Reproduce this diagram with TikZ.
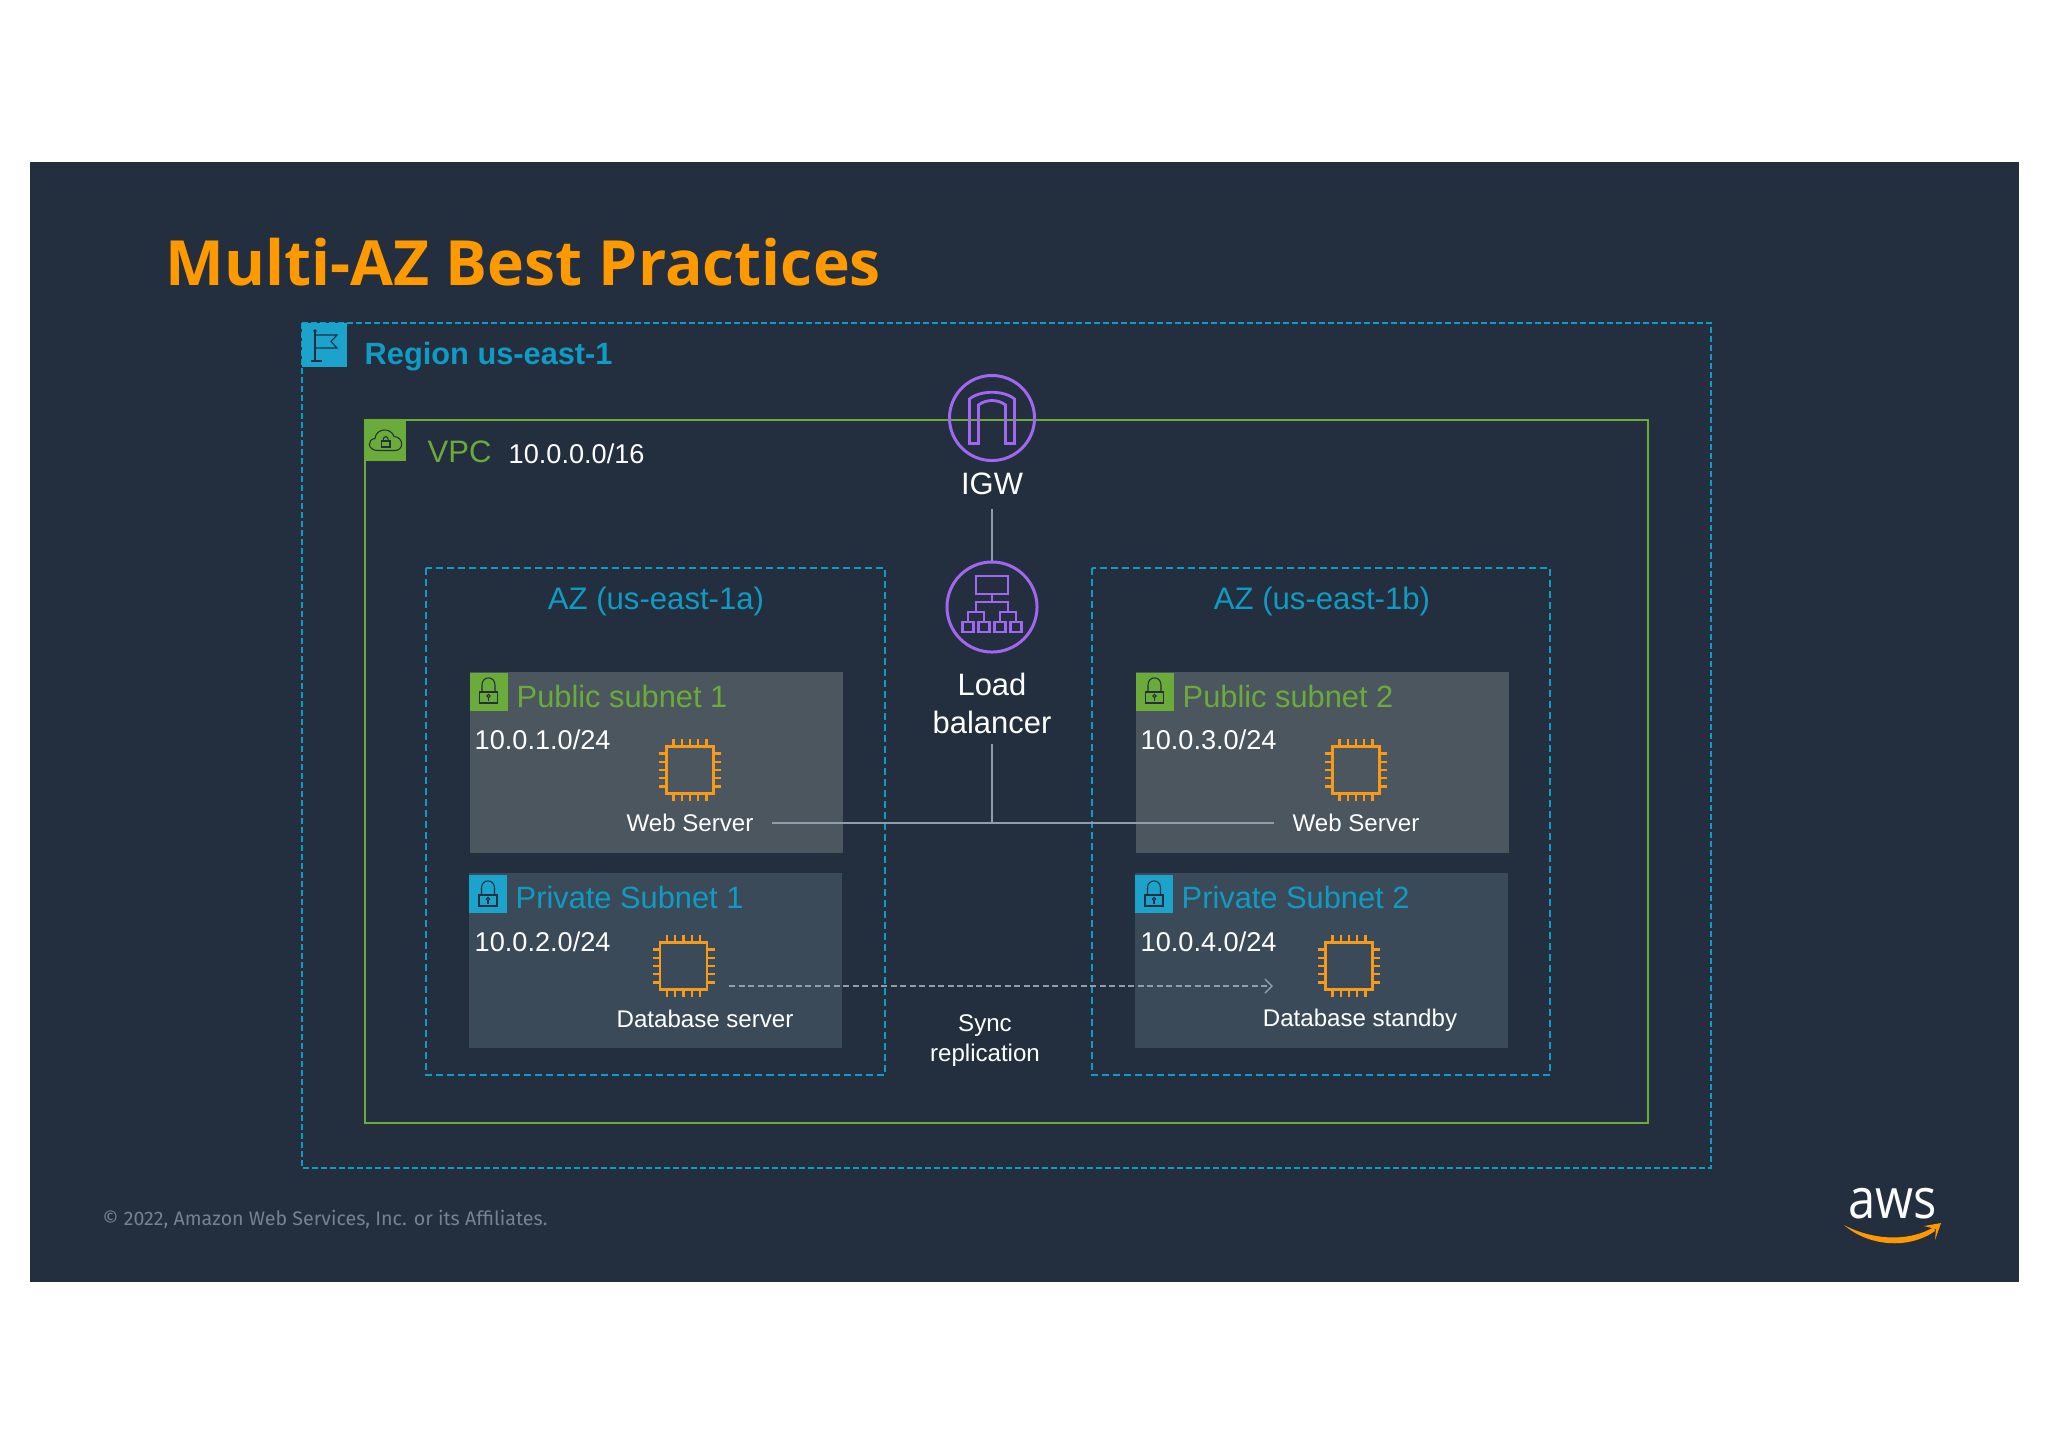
\documentclass[tikz,border=0pt]{standalone}
\usepackage{fontspec}
\setmainfont{Liberation Sans}
\newfontfamily\titlefont{Open Sans}
\newfontfamily\footfont{Fira Sans}
\usepackage{tikz}
\usetikzlibrary{arrows.meta}
\pgfdeclarelayer{background}
\pgfdeclarelayer{foreground}
\pgfsetlayers{background,main,foreground}
\definecolor{panelcol}{HTML}{232F3E}
\definecolor{bluecol}{HTML}{0F9BC4}
\definecolor{iconblue}{HTML}{1CA3CC}
\definecolor{greencol}{HTML}{6AAB3A}
\definecolor{orangecol}{HTML}{FF9900}
\definecolor{chipcol}{HTML}{F59A1B}
\definecolor{purplecol}{HTML}{A166F2}
\definecolor{pubcol}{HTML}{4B565F}
\definecolor{privcol}{HTML}{3B4A58}
\definecolor{linecol}{HTML}{909EAC}
\definecolor{footcol}{HTML}{77828E}
\tikzset{
  regionbox/.style={draw=bluecol,line width=0.45pt,dash pattern=on 0.06cm off 0.03cm},
  vpcbox/.style={draw=greencol,line width=0.55pt},
  azbox/.style={draw=bluecol,line width=0.5pt,dash pattern=on 0.07cm off 0.04cm},
  plainlabel/.style={text=white,inner sep=0pt,font=\fontsize{7.72}{9}\selectfont},
  iplabel/.style={plainlabel,anchor=west},
  smalllabel/.style={plainlabel,inner sep=0.18cm,font=\fontsize{6.85}{9}\selectfont},
  biglabel/.style={plainlabel,align=center,font=\fontsize{8.8}{10.8}\selectfont},
  publabel/.style={anchor=west,inner sep=0pt,text=greencol,font=\fontsize{8.76}{10}\selectfont},
  privlabel/.style={anchor=west,inner sep=0pt,text=bluecol,font=\fontsize{8.76}{10}\selectfont},
  azlabel/.style={inner sep=0pt,text=bluecol,font=\fontsize{8.85}{10}\selectfont},
  chipbox/.style={draw=chipcol,line width=0.6pt,minimum width=0.47cm,minimum height=0.47cm,inner sep=0pt},
  chippin/.style={draw=chipcol,line width=0.6pt},
  iconline/.style={draw=panelcol,line width=0.3pt},
  purplering/.style={draw=purplecol,line width=0.85pt,circle,inner sep=0pt},
  purpleline/.style={draw=purplecol,line width=0.8pt},
  wire/.style={draw=linecol,line width=0.4pt},
  syncwire/.style={draw=linecol,line width=0.4pt,dash pattern=on 0.06cm off 0.035cm,-{Straight Barb[length=0.07cm,width=0.14cm]}},
  lockicon/.pic={
    \draw[iconline] (-9,1) rectangle (9,12);
    \draw[iconline] (-6.5,1) -- (-6.5,-6) .. controls (-6.5,-15.5) and (6.5,-15.5) .. (6.5,-6) -- (6.5,1);
    \draw[iconline] (0,5) circle (1.7);
    \draw[iconline] (0,6.7) -- (0,10);
  }
}
\newcommand{\chipicon}[3]{%
  \node[chipbox] (#1) at (#2,#3) {};
  \foreach \o in {-16.5,-8.25,0,8.25,16.5} {
    \draw[chippin] (#2+\o,#3-24) -- (#2+\o,#3-31);
    \draw[chippin] (#2+\o,#3+24) -- (#2+\o,#3+31);
    \draw[chippin] (#2-24,#3+\o) -- (#2-31,#3+\o);
    \draw[chippin] (#2+24,#3+\o) -- (#2+31,#3+\o);
  }
}
\begin{document}
\begin{tikzpicture}[x=0.01cm,y=-0.01cm]
\useasboundingbox (0,0) rectangle (2048,1447);
\begin{pgfonlayer}{background}
\fill[white] (0,0) rectangle (2048,1447);
\fill[panelcol] (30,162) rectangle (2019,1282);
\fill[pubcol] (470,672) rectangle (843,852.5);
\fill[pubcol] (1136,672) rectangle (1509,852.5);
\fill[privcol] (469,873) rectangle (842,1048);
\fill[privcol] (1135,873) rectangle (1508,1048);
\draw[regionbox] (302,323) rectangle (1711,1168);
\draw[vpcbox] (365,420) rectangle (1648,1123);
\draw[azbox] (426,568) rectangle (885,1075);
\draw[azbox] (1092,568) rectangle (1550,1075);
\end{pgfonlayer}
% header
\node[anchor=west,inner sep=0pt,text=orangecol,font=\titlefont\bfseries\fontsize{17.73}{20}\selectfont] (title) at (165,262) {Multi-AZ Best Practices};
% region
\fill[iconblue] (302,323) rectangle (347,367);
\draw[iconline] (315,332) -- (315,361) (311,361) -- (322,361);
\draw[iconline] (315,335) -- (337,335) -- (331,341.5) -- (337,348) -- (315,348);
\fill[panelcol] (315,331) circle (1.8);
\node[anchor=west,inner sep=0pt,text=bluecol,font=\bfseries\fontsize{8.75}{10}\selectfont] (regionlabel) at (364,356.5) {Region us-east-1};
% vpc
\fill[greencol] (365,420) rectangle (406,461);
\draw[iconline] (378,450.5) .. controls (367,450.5) and (367,439) .. (375,438.5) .. controls (376,428) and (391,427) .. (394,436.5) .. controls (404,437) and (404,450.5) .. (395,450.5) -- cycle;
\draw[iconline] (381.5,441) rectangle (390,447);
\draw[iconline] (383,441) .. controls (383,435) and (388.5,435) .. (388.5,441);
\node[anchor=west,inner sep=0pt,text=greencol,font=\fontsize{8.82}{10}\selectfont] (vpclabel) at (427,452) {VPC};
\node[iplabel] (vpcip) at (508,454) {10.0.0.0/16};
% gateway and balancer
\node[purplering,minimum size=0.85cm] (igw) at (992,418) {};
\draw[purpleline] (969.5,443.5) -- (969.5,399) .. controls (980,390) and (1004,390) .. (1014.5,399) -- (1014.5,443.5) -- (1005.5,443.5) -- (1005.5,405) .. controls (998,399) and (986,399) .. (978.5,405) -- (978.5,443.5) -- cycle;
\node[biglabel] (igwlabel) at (992,484) {IGW};
\node[purplering,minimum size=0.9cm] (lb) at (992,607) {};
\draw[purpleline] (976,576) rectangle (1008,594);
\draw[purpleline] (992,594) -- (992,602) (976,612) -- (976,602) -- (1008,602) -- (1008,612);
\draw[purpleline] (968,622) -- (968,612) -- (984,612) -- (984,622);
\draw[purpleline] (1000,622) -- (1000,612) -- (1016,612) -- (1016,622);
\foreach \bx in {968,984,1000,1016} {
  \draw[purpleline] (\bx-5.5,622) rectangle (\bx+5.5,632);
}
\node[biglabel,font=\fontsize{8.8}{10.8}\selectfont] (lblabel) at (992,703) {Load\\balancer};
% availability zones
\node[azlabel] (aza) at (656,601.5) {AZ (us-east-1a)};
\node[azlabel] (azb) at (1322,601.5) {AZ (us-east-1b)};
% public subnets
\fill[greencol] (470,673) rectangle (507.5,711);
\pic at (488.5,691) {lockicon};
\node[publabel] (pub1) at (516,696) {Public subnet 1};
\node[iplabel] (pub1ip) at (474,740) {10.0.1.0/24};
\chipicon{webchip1}{690}{770}
\node[smalllabel] (web1) at (690,823) {Web Server};
\fill[greencol] (1136,673) rectangle (1173.5,711);
\pic at (1154.5,691) {lockicon};
\node[publabel] (pub2) at (1182,696) {Public subnet 2};
\node[iplabel] (pub2ip) at (1140,740) {10.0.3.0/24};
\chipicon{webchip2}{1356}{770}
\node[smalllabel] (web2) at (1356,823) {Web Server};
% private subnets
\fill[iconblue] (469,875) rectangle (507,913);
\pic at (488,894) {lockicon};
\node[privlabel] (priv1) at (515,897) {Private Subnet 1};
\node[iplabel] (priv1ip) at (474,942) {10.0.2.0/24};
\chipicon{dbchip1}{683.5}{966}
\node[smalllabel] (db1) at (705,1018.5) {Database server};
\fill[iconblue] (1135,875) rectangle (1173,913);
\pic at (1154,894) {lockicon};
\node[privlabel] (priv2) at (1181,897) {Private Subnet 2};
\node[iplabel] (priv2ip) at (1140,942) {10.0.4.0/24};
\chipicon{dbchip2}{1349}{966}
\node[smalllabel] (db2) at (1360,1020) {Database standby};
% connectors
\coordinate (busjoin) at (992,822);
\coordinate (syncstart) at (729,986);
\coordinate (syncend) at (1273,986);
\draw[wire,shorten <=0.13cm] (igwlabel) -- (lb);
\draw[wire] (web1) -- (web2);
\draw[wire,shorten <=0.1cm] (lblabel) -- (busjoin);
\draw[syncwire] (syncstart) -- (syncend);
\node[smalllabel,align=center,inner sep=0pt,font=\fontsize{6.85}{8.5}\selectfont] (synclabel) at (985,1041) {Sync\\replication};
% footer
\node[anchor=west,inner sep=0pt,text=footcol,font=\footfont\fontsize{5.58}{7}\selectfont] (footer) at (102,1219) {© 2022, Amazon Web Services, Inc. or its Affiliates.};
\node[inner sep=0pt,text=white,xscale=0.88,font=\titlefont\fontsize{15.8}{18}\selectfont] (awslogo) at (1892.5,1204) {aws};
\fill[orangecol] (1844,1225) .. controls (1868,1238) and (1905,1244) .. (1934,1227) -- (1935,1231) .. controls (1908,1250) and (1868,1246) .. cycle;
\fill[orangecol] (1924,1226) -- (1941,1223) -- (1935,1240) -- (1936,1229) -- cycle;
\end{tikzpicture}
\end{document}
